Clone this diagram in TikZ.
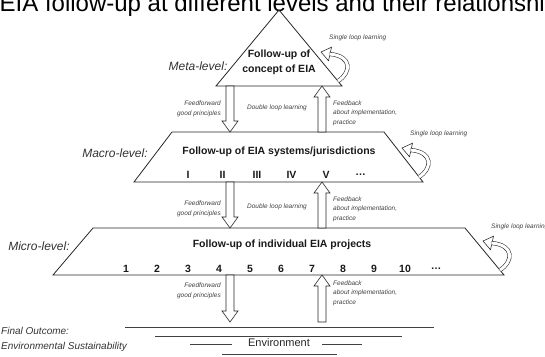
\documentclass[tikz,border=0pt]{standalone}
\usepackage{fontspec}
\setmainfont{Liberation Sans}
\usetikzlibrary{calc}

\begin{document}
\begin{tikzpicture}[x=1pt,y=-1pt,
     lvl/.style={inner sep=0,font=\fontsize{12}{14}\selectfont\itshape,text=black!80},
     heading/.style={inner sep=0,font=\fontsize{10.5}{15}\selectfont\bfseries,text=black!90},
     note/.style={inner sep=0,font=\fontsize{6.5}{9.5}\selectfont\itshape,text=black!75},
     outline/.style={draw=black!85,line width=0.8pt},
     baseline/.style={draw=black!75,line width=0.7pt},
     loopline/.style={draw=black!85,line width=0.55pt,double=white,double distance=3pt},
     loophead/.style={draw=black!85,line width=0.55pt,fill=white},
     hollow/.style={draw=black!85,fill=white,line width=0.6pt,
       to path={($(\tikztostart)!4pt!90:(\tikztotarget)$)
         -- ($(\tikztotarget)!11pt!(\tikztostart)!4pt!-90:(\tikztostart)$)
         -- ($(\tikztotarget)!11pt!(\tikztostart)!8pt!-90:(\tikztostart)$)
         -- (\tikztotarget)
         -- ($(\tikztotarget)!11pt!(\tikztostart)!8pt!90:(\tikztostart)$)
         -- ($(\tikztotarget)!11pt!(\tikztostart)!4pt!90:(\tikztostart)$)
         -- ($(\tikztostart)!4pt!-90:(\tikztotarget)$) -- cycle}}]
     \useasboundingbox (0,0) rectangle (545,356);
     \node[anchor=base west,inner sep=0,font=\fontsize{24}{28}\selectfont] (title) at (-0.5,11)
       {EIA follow-up at different levels and their relationship};

     % the three levels
     \coordinate (meta-r) at (342,86);
     \coordinate (macro-r) at (423,182);
     \coordinate (micro-r) at (504,275);
     \draw[outline] (279,10) -- (meta-r) -- (216,86) -- cycle;
     \draw[outline] (172,132) -- (384,132) -- (macro-r) -- (134,182) -- cycle;
     \draw[outline] (93,228) -- (465,228) -- (micro-r) -- (53,275) -- cycle;

     \node[lvl] (meta-lbl) at (198,66) {Meta-level:};
     \node[heading,align=center] (meta) at (279,62) {Follow-up of\\concept of EIA};
     \node[lvl] (macro-lbl) at (115,153) {Macro-level:};
     \node[heading] (macro) at (279,152) {Follow-up of EIA systems/jurisdictions};
     \foreach \r [count=\i] in {I,II,III,IV,V,\dots}
       \node[heading] (sys-\i) at ({188+34.5*(\i-1)},175) {\r};
     \node[lvl] (micro-lbl) at (39,246) {Micro-level:};
     \node[heading] (micro) at (282,245) {Follow-up of individual EIA projects};
     \foreach \p [count=\i] in {1,2,3,4,5,6,7,8,9,10,\dots}
       \node[heading] (proj-\i) at ({126+31*(\i-1)},269) {\p};

     % single loop learning
     \foreach \c in {meta-r,macro-r,micro-r}{
       \begin{scope}[shift={(\c)}]
         \draw[loophead] (-13.5,-25.2) -- (-21,-34) -- (-10.5,-38.8) -- cycle;
         \draw[loopline] (-4,-5) .. controls (9,-13) and (11,-30) .. (-12.5,-32);
         \node[note,anchor=west] (single-\c) at (-13,-48) {Single loop learning};
       \end{scope}}

     % feedforward and feedback between the levels
     \coordinate (ffw1) at (230,86);  \coordinate (ffw1-end) at (230,132);
     \coordinate (fbk1) at (322,132); \coordinate (fbk1-end) at (322,86);
     \coordinate (ffw2) at (230,182); \coordinate (ffw2-end) at (230,228);
     \coordinate (fbk2) at (322,228); \coordinate (fbk2-end) at (322,182);
     \coordinate (ffw3) at (230,275); \coordinate (ffw3-end) at (230,322);
     \coordinate (fbk3) at (322,322); \coordinate (fbk3-end) at (322,275);
     \draw[hollow] (ffw1) to (ffw1-end);
     \draw[hollow] (fbk1) to (fbk1-end);
     \draw[hollow] (ffw2) to (ffw2-end);
     \draw[hollow] (fbk2) to (fbk2-end);
     \draw[hollow] (ffw3) to (ffw3-end);
     \draw[hollow] (fbk3) to (fbk3-end);

     \node[note,anchor=east,align=right] (ffw1-lbl) at (221,109) {Feedforward\\good principles};
     \node[note] (dbl1-lbl) at (277,108) {Double loop learning};
     \node[note,anchor=west,align=left] (fbk1-lbl) at (333,113) {Feedback\\about implementation,\\practice};
     \node[note,anchor=east,align=right] (ffw2-lbl) at (221,209) {Feedforward\\good principles};
     \node[note] (dbl2-lbl) at (277,207) {Double loop learning};
     \node[note,anchor=west,align=left] (fbk2-lbl) at (333,209) {Feedback\\about implementation,\\practice};
     \node[note,anchor=east,align=right] (ffw3-lbl) at (221,291) {Feedforward\\good principles};
     \node[note,anchor=west,align=left] (fbk3-lbl) at (333,293) {Feedback\\about implementation,\\practice};

     % final outcome
     \node[anchor=west,align=left,inner sep=0,font=\fontsize{10}{15}\selectfont\itshape,text=black!80]
       (final) at (1,339) {Final Outcome:\\Environmental Sustainability};
     \draw[baseline] (125,327) -- (434,327);
     \draw[baseline] (155,336) -- (402,336);
     \node[inner sep=0,font=\fontsize{11}{13}\selectfont,text=black!85] (env) at (279,343) {Environment};
     \draw[baseline] (190,344) -- (232,344);
     \draw[baseline] (322,344) -- (362,344);
     \draw[baseline] (222,354) -- (337,354);
\end{tikzpicture}
\end{document}
